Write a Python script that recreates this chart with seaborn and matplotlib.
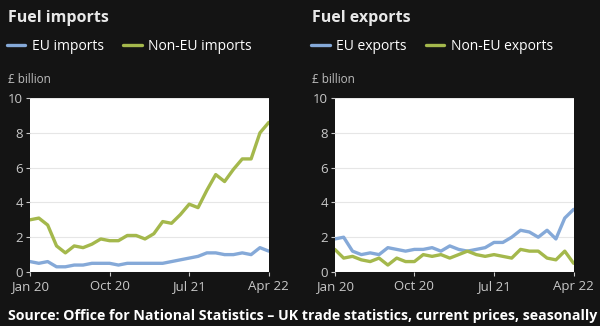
import matplotlib
matplotlib.use("Agg")
import matplotlib.pyplot as plt
import seaborn as sns
import pandas as pd
import numpy as np

months = pd.date_range("2020-01-01", "2022-04-01", freq="MS")
eu_imports = [0.6, 0.5, 0.6, 0.3, 0.3, 0.4, 0.4, 0.5, 0.5, 0.5, 0.4, 0.5, 0.5, 0.5,
              0.5, 0.5, 0.6, 0.7, 0.8, 0.9, 1.1, 1.1, 1.0, 1.0, 1.1, 1.0, 1.4, 1.2]
noneu_imports = [3.0, 3.1, 2.7, 1.5, 1.1, 1.5, 1.4, 1.6, 1.9, 1.8, 1.8, 2.1, 2.1, 1.9,
                 2.2, 2.9, 2.8, 3.3, 3.9, 3.7, 4.7, 5.6, 5.2, 5.9, 6.5, 6.5, 8.0, 8.6]
eu_exports = [1.9, 2.0, 1.2, 1.0, 1.1, 1.0, 1.4, 1.3, 1.2, 1.3, 1.3, 1.4, 1.2, 1.5,
              1.3, 1.2, 1.3, 1.4, 1.7, 1.7, 2.0, 2.4, 2.3, 2.0, 2.4, 1.9, 3.1, 3.6]
noneu_exports = [1.3, 0.8, 0.9, 0.7, 0.6, 0.8, 0.4, 0.8, 0.6, 0.6, 1.0, 0.9, 1.0, 0.8,
                 1.0, 1.2, 1.0, 0.9, 1.0, 0.9, 0.8, 1.3, 1.2, 1.2, 0.8, 0.7, 1.2, 0.5]
xtick_labels = ["Jan 20", "Oct 20", "Jul 21", "Apr 22"]
yticks = [0, 2, 4, 6, 8, 10]

BG = "#141414"
BLUE = "#85a9d8"
GREEN = "#a4b84c"

sns.set_theme(style="white")
plt.rcParams["font.family"] = ["Open Sans", "DejaVu Sans"]

fig = plt.figure(figsize=(6, 3.26), dpi=100, facecolor=BG)

panels = [
    ("Fuel imports", ["EU imports", "Non-EU imports"], eu_imports, noneu_imports, 0.05, 0.013),
    ("Fuel exports", ["EU exports", "Non-EU exports"], eu_exports, noneu_exports, 0.558, 0.52),
]

idx = np.arange(len(months))
for title, names, a, b, x0, tx in panels:
    ax = fig.add_axes([x0, 0.1656, 0.398, 0.5337])
    df = pd.DataFrame({
        "m": np.concatenate([idx, idx]),
        "v": a + b,
        "s": [names[0]] * len(idx) + [names[1]] * len(idx),
    })
    sns.lineplot(data=df, x="m", y="v", hue="s", palette=[BLUE, GREEN],
                 linewidth=2.4, ax=ax, legend=True)
    ax.set_facecolor("white")
    ax.set_xlim(0, len(idx) - 1)
    ax.set_ylim(0, 10)
    ax.set_yticks(yticks)
    ax.set_yticklabels([str(t) for t in yticks])
    ax.set_xticks([0, 9, 18, 27])
    ax.set_xticklabels(xtick_labels)
    ax.set_xlabel("")
    ax.set_ylabel("")
    ax.grid(axis="y", color="#e6e6e6", linewidth=0.8)
    ax.set_axisbelow(True)
    for sp in ax.spines.values():
        sp.set_visible(False)
    ax.tick_params(axis="both", colors="#c8c8c8", labelsize=9.5, length=3,
                   width=0.8, pad=2, bottom=True, left=True)
    ax.tick_params(axis="x", pad=3)
    handles, labels = ax.get_legend_handles_labels()
    ax.legend(handles, labels, loc="center left",
              bbox_to_anchor=(tx - 0.002, 0.858), bbox_transform=fig.transFigure,
              ncol=2, frameon=False, handlelength=1.35, handletextpad=0.45,
              columnspacing=1.4, fontsize=10, labelcolor="white",
              borderaxespad=0, borderpad=0)
    fig.text(tx, 0.945, title, color="#e8e8e8", fontsize=11.5, fontweight="bold",
             va="center", ha="left")
    fig.text(tx, 0.755, "£ billion", color="#bdbdbd", fontsize=8.5, va="center", ha="left")

fig.text(0.013, 0.03, "Source: Office for National Statistics – UK trade statistics, current prices, seasonally",
         color="white", fontsize=10.2, fontweight="bold", va="center", ha="left")

fig.savefig("out.png", dpi=100, facecolor=BG)
